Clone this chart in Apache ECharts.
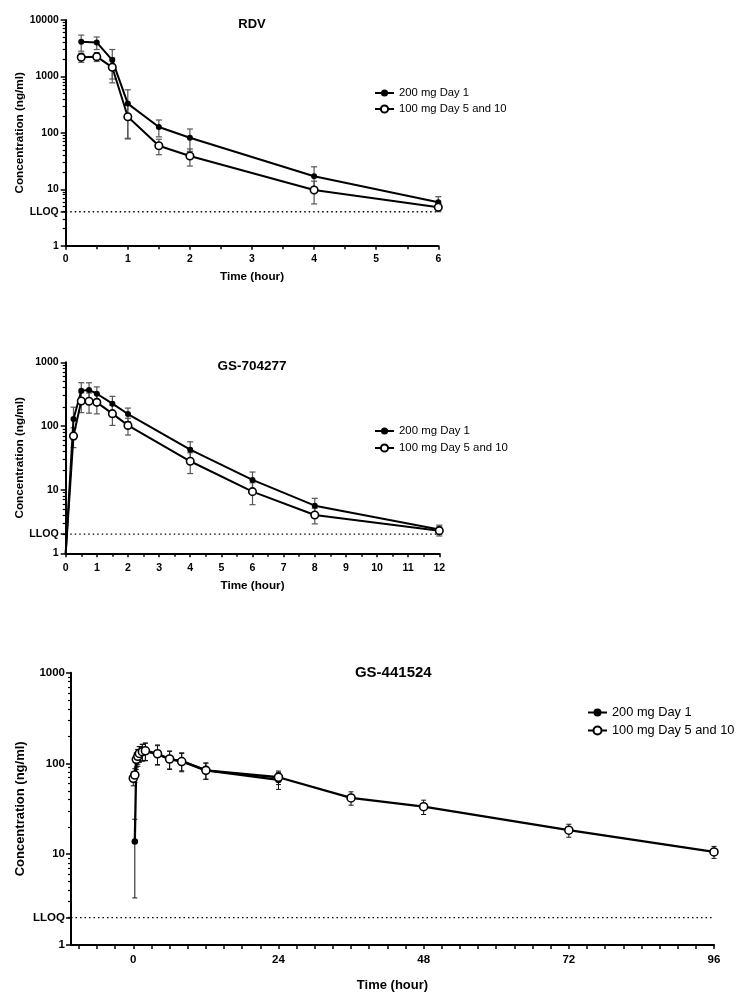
<!DOCTYPE html>
<html><head><meta charset="utf-8">
<script src="https://cdn.jsdelivr.net/npm/echarts@6/dist/echarts.min.js"></script>
<style>html,body{margin:0;padding:0;background:#fff}#c{width:749px;height:1004px}</style>
</head><body><div id="c"></div>
<script>
// ---------------- DATA ----------------
const seriesNames = ['200 mg Day 1', '100 mg Day 5 and 10'];
const panelTitles = ['RDV', 'GS-704277', 'GS-441524'];
const xAxisName = 'Time (hour)';
const yAxisName = 'Concentration (ng/ml)';

// RDV
const rdvTime200 = [0.25, 0.5, 0.75, 1, 1.5, 2, 4, 6];
const rdvMean200 = [4100, 4000, 1950, 330, 127, 82, 17, 5.9];
const rdvSD200   = [1300, 1000, 1050, 250, 42, 35, 8, 1.5];
const rdvTime100 = [0.25, 0.5, 0.75, 1, 1.5, 2, 4, 6];
const rdvMean100 = [2180, 2240, 1450, 193, 59, 38.8, 9.7, 4.8];
const rdvSD100   = [400, 400, 680, 115, 18, 13, 4.2, 0.8];
const rdvLLOQ = 4;
const rdvYTicks = [1, 10, 100, 1000, 10000];
const rdvXTicks = [0, 1, 2, 3, 4, 5, 6];

// GS-704277
const gs7Time200 = [0, 0.25, 0.5, 0.75, 1, 1.5, 2, 4, 6, 8, 12];
const gs7Mean200 = [1, 129, 358, 367, 321, 224, 154, 42.5, 14.2, 5.6, 2.37];
const gs7SD200   = [0, 68, 120, 110, 90, 68, 37, 14, 4.7, 1.7, 0.4];
const gs7Time100 = [0, 0.25, 0.5, 0.75, 1, 1.5, 2, 4, 6, 8, 12];
const gs7Mean100 = [1, 69.7, 247, 244, 235, 156, 102, 27.9, 9.3, 4.0, 2.27];
const gs7SD100   = [0, 24, 85, 85, 80, 54, 30, 10, 3.5, 1.1, 0.4];
const gs7LLOQ = 2;
const gs7YTicks = [1, 10, 100, 1000];
const gs7XTicks = [0, 1, 2, 3, 4, 5, 6, 7, 8, 9, 10, 11, 12];

// GS-441524
const gs4Time200 = [0.25, 0.5, 0.75, 1, 1.5, 2, 4, 6, 8, 12, 24];
const gs4Mean200 = [13.8, 108, 118, 128, 134, 137, 127, 111, 107, 84, 65.8];
const gs4SD200   = [10.5, 22, 25, 25, 28, 30, 30, 25, 24, 17, 14];
const gs4Time100 = [0, 0.25, 0.5, 0.75, 1, 1.5, 2, 4, 6, 8, 12, 24, 36, 48, 72, 96];
const gs4Mean100 = [68.7, 74.6, 111, 120, 129, 135, 138, 128, 112, 105, 84, 70.5, 41.7, 33.4, 18.4, 10.6];
const gs4SD100   = [12, 13, 20, 22, 25, 28, 30, 32, 25, 24, 17, 12, 7, 6, 3, 1.6];
const gs4LLOQ = 2;
const gs4YTicks = [1, 10, 100, 1000];
const gs4XTicks = [0, 24, 48, 72, 96];
const gs4XMinorTicks = [-9, -6, -3, 0, 3, 6, 9, 12, 15, 18, 21, 24, 27, 30, 33, 36, 39, 42, 45, 48, 51, 54, 57, 60, 63, 66, 69, 72, 75, 78, 81, 84, 87, 90, 93, 96];

// ---------------- LAYOUT / STYLE ----------------
const FONT = '"Liberation Sans", Arial, Helvetica, sans-serif';
const panels = [
  { grid: {left: 65.7, top: 20, width: 372.6, height: 225.7},
    xmin: 0, xmax: 6, ymin: 1, ymax: 10000,
    data: [[rdvTime200, rdvMean200, rdvSD200], [rdvTime100, rdvMean100, rdvSD100]],
    lloq: rdvLLOQ, yTicks: rdvYTicks, xTicks: rdvXTicks, xMinor: null,
    title: {x: 252, y: 18, size: 13}, tickFont: 10.4, nameFont: 11.7,
    xNameGap: 25, yNameGap: 40, xLabelMargin: 8, yLabelMargin: 7,
    legend: {left: 374, top: 87.5, size: 11.25, gap: 5, iw: 19, ih: 9},
    lineW: 2, barColor: '#555', barW: 1.2, cap: 3, symF: 6, symO: 7.5 },
  { grid: {left: 65.7, top: 362.3, width: 373.6, height: 191},
    xmin: 0, xmax: 12, ymin: 1, ymax: 1000,
    data: [[gs7Time200, gs7Mean200, gs7SD200], [gs7Time100, gs7Mean100, gs7SD100]],
    lloq: gs7LLOQ, yTicks: gs7YTicks, xTicks: gs7XTicks, xMinor: null,
    title: {x: 252, y: 359.5, size: 13.5}, tickFont: 10.6, nameFont: 11.7,
    xNameGap: 26, yNameGap: 40, xLabelMargin: 9, yLabelMargin: 7,
    legend: {left: 374, top: 425.5, size: 11.4, gap: 6, iw: 19, ih: 9},
    lineW: 2, barColor: '#555', barW: 1.2, cap: 3, symF: 6, symO: 7.5 },
  { grid: {left: 71, top: 672.7, width: 643, height: 272.3},
    xmin: -10.3, xmax: 96, ymin: 1, ymax: 1000,
    data: [[gs4Time200, gs4Mean200, gs4SD200], [gs4Time100, gs4Mean100, gs4SD100]],
    lloq: gs4LLOQ, yTicks: gs4YTicks, xTicks: gs4XTicks, xMinor: gs4XMinorTicks,
    title: {x: 393.3, y: 665.5, size: 15}, tickFont: 11.5, nameFont: 13,
    xNameGap: 34, yNameGap: 44, xLabelMargin: 9, yLabelMargin: 6,
    legend: {left: 587, top: 706, size: 12.8, gap: 5, iw: 19, ih: 10},
    lineW: 2.3, barColor: '#111', barW: 1, cap: 2.5, symF: 6.5, symO: 8 }
];

function minorLogTicks(ymin, ymax) {
  const out = [];
  for (let d = ymin; d < ymax; d *= 10) {
    for (let k = 2; k <= 9; k++) out.push(d * k);
  }
  return out;
}

const option = {
  animation: false,
  backgroundColor: '#fff',
  title: [], legend: [], grid: [], xAxis: [], yAxis: [], series: []
};

panels.forEach((p, i) => {
  option.grid.push(Object.assign({containLabel: false}, p.grid));
  option.title.push({
    text: panelTitles[i], left: p.title.x, top: p.title.y, textAlign: 'center',
    padding: 0,
    textStyle: {fontFamily: FONT, fontWeight: 'bold', fontSize: p.title.size, color: '#000'}
  });
  option.legend.push({
    data: seriesNames, orient: 'vertical', left: p.legend.left, top: p.legend.top,
    padding: 0, itemGap: p.legend.gap, itemWidth: p.legend.iw, itemHeight: p.legend.ih,
    selectedMode: false,
    textStyle: {fontFamily: FONT, fontSize: p.legend.size, color: '#000'}
  });
  const xTickCfg = {show: true, length: 4, lineStyle: {color: '#000', width: 1.5}};
  if (p.xMinor) xTickCfg.customValues = p.xMinor;
  const xLabelCfg = {fontFamily: FONT, fontWeight: 'bold', fontSize: p.tickFont, color: '#000', margin: p.xLabelMargin};
  if (p.xMinor) xLabelCfg.customValues = p.xTicks;
  option.xAxis.push({
    type: 'value', gridIndex: i, min: p.xmin, max: p.xmax, position: 'bottom',
    interval: p.xMinor ? undefined : 1,
    axisLine: {show: true, onZero: false, lineStyle: {color: '#000', width: 2}},
    axisTick: xTickCfg,
    minorTick: p.xMinor ? {show: false} : {show: true, splitNumber: 2, length: 3.5, lineStyle: {color: '#000', width: 1.5}},
    axisLabel: xLabelCfg,
    splitLine: {show: false},
    name: xAxisName, nameLocation: 'middle', nameGap: p.xNameGap, nameMoveOverlap: false,
    nameTextStyle: {fontFamily: FONT, fontWeight: 'bold', fontSize: p.nameFont, color: '#000'}
  });
  // data axis: log scale with minor ticks
  option.yAxis.push({
    type: 'log', logBase: 10, gridIndex: i, min: p.ymin, max: p.ymax, position: 'left',
    axisLine: {show: true, onZero: false, lineStyle: {color: '#000', width: 2}},
    axisTick: {show: true, length: 3, lineStyle: {color: '#000', width: 1.2}, customValues: minorLogTicks(p.ymin, p.ymax)},
    axisLabel: {show: false},
    splitLine: {show: false}
  });
  // label axis: same log scale, major ticks + labels
  option.yAxis.push({
    type: 'log', logBase: 10, gridIndex: i, min: p.ymin, max: p.ymax, position: 'left', offset: 0,
    axisLine: {show: false, onZero: false},
    axisTick: {show: true, length: 5, lineStyle: {color: '#000', width: 1.5}, customValues: p.yTicks.concat([p.lloq])},
    axisLabel: {
      customValues: p.yTicks.concat([p.lloq]),
      formatter: v => (Math.abs(v - p.lloq) < 1e-9 ? 'LLOQ' : String(v)),
      fontFamily: FONT, fontWeight: 'bold', fontSize: p.tickFont, color: '#000', margin: p.yLabelMargin
    },
    splitLine: {show: false},
    name: yAxisName, nameLocation: 'middle', nameGap: p.yNameGap, nameMoveOverlap: false,
    nameTextStyle: {fontFamily: FONT, fontWeight: 'bold', fontSize: p.nameFont, color: '#000'}
  });
  const yIdx = 2 * i;
  // LLOQ dotted line
  option.series.push({
    type: 'line', name: 'LLOQ', xAxisIndex: i, yAxisIndex: yIdx,
    data: [[p.xmin, p.lloq], [p.xmax, p.lloq]], symbol: 'none', silent: true,
    lineStyle: {color: '#000', width: 1.3, type: [1.5, 3]}, z: 1
  });
  p.data.forEach((d, s) => {
    const [times, means, sds] = d;
    // error bars
    option.series.push({
      type: 'custom', name: seriesNames[s] + ' SD', xAxisIndex: i, yAxisIndex: yIdx, silent: true,
      data: times.map((t, j) => [t, means[j], sds[j]]),
      encode: {x: 0, y: 1},
      z: 2,
      renderItem: function (params, api) {
        const t = api.value(0), m = api.value(1), sd = api.value(2);
        if (!sd) return null;
        const lo = Math.max(m - sd, p.ymin), hi = Math.min(m + sd, p.ymax);
        const a = api.coord([t, hi]), b = api.coord([t, lo]);
        const st = {stroke: p.barColor, lineWidth: p.barW};
        const ch = [
          {type: 'line', shape: {x1: a[0], y1: a[1], x2: b[0], y2: b[1]}, style: st},
          {type: 'line', shape: {x1: a[0] - p.cap, y1: a[1], x2: a[0] + p.cap, y2: a[1]}, style: st}
        ];
        if (m - sd > p.ymin) ch.push({type: 'line', shape: {x1: b[0] - p.cap, y1: b[1], x2: b[0] + p.cap, y2: b[1]}, style: st});
        return {type: 'group', children: ch};
      }
    });
    const filled = s === 0;
    option.series.push({
      type: 'line', name: seriesNames[s], xAxisIndex: i, yAxisIndex: yIdx,
      data: times.map((t, j) => means[j] <= p.ymin ? {value: [t, means[j]], symbol: 'none'} : [t, means[j]]),
      symbol: 'circle', symbolSize: filled ? p.symF : p.symO, showAllSymbol: true,
      lineStyle: {color: '#000', width: p.lineW},
      itemStyle: filled ? {color: '#000', borderColor: '#000', borderWidth: 0}
                        : {color: '#fff', borderColor: '#000', borderWidth: 1.6},
      z: filled ? 3 : 4
    });
  });
});

const chart = echarts.init(document.getElementById('c'), null, {renderer: 'canvas'});
chart.setOption(option);
</script>
</body></html>
